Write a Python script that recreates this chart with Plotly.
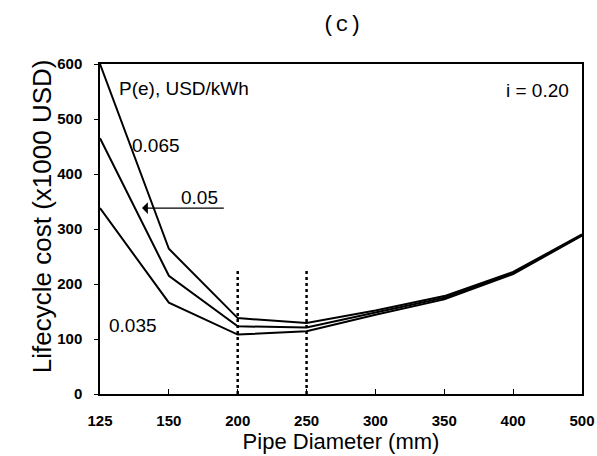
import plotly.graph_objects as go

diameters = ["125", "150", "200", "250", "300", "350", "400", "500"]
cost_0065 = [600, 264, 138, 129, 152, 178, 222, 290]
cost_005 = [465, 215, 123, 121, 148, 175, 220, 289]
cost_0035 = [338, 166, 108, 114, 144, 172, 218, 288]
marker_diameters = ["200", "250"]
marker_top = 225

fig = go.Figure()
for ys in (cost_0065, cost_005, cost_0035):
    fig.add_trace(go.Scatter(x=diameters, y=ys, mode="lines",
                             line=dict(color="black", width=2), showlegend=False))
for d in marker_diameters:
    fig.add_trace(go.Scatter(x=[d, d], y=[0, marker_top], mode="lines",
                             line=dict(color="black", width=2.5, dash="dot"), showlegend=False))

fnt = dict(family="Liberation Sans, Arial", size=19, color="black")
fig.add_annotation(x=0.245, y=556, text="P(e), USD/kWh", showarrow=False, xanchor="left", font=fnt)
fig.add_annotation(x=0.82, y=451, text="0.065", showarrow=False, font=fnt)
fig.add_annotation(x=1.45, y=358, text="0.05", showarrow=False, font=fnt)
fig.add_annotation(x=0.48, y=124, text="0.035", showarrow=False, font=fnt)
fig.add_annotation(x=6.84, y=551, text="i = 0.20", showarrow=False, xanchor="right", font=fnt)
fig.add_annotation(x=0.61, y=338, ax=1.82, ay=338, axref="x", ayref="y", text="",
                   showarrow=True, arrowhead=1, arrowsize=1.5, arrowwidth=1.3, arrowcolor="black")
# y-axis title (placed slightly above plot centre, as in the original)
fig.add_annotation(xref="paper", yref="paper", x=0, y=0.539, xshift=-75, textangle=-90,
                   text="Lifecycle cost (x1000 USD)", showarrow=False,
                   font=dict(family="Liberation Sans, Arial", size=26, color="black"))

tickfont = dict(family="Liberation Sans, Arial", size=15, color="black", weight="bold")
fig.update_layout(
    width=597, height=456,
    margin=dict(l=100, r=15, t=64, b=62),
    paper_bgcolor="white", plot_bgcolor="white",
    title=dict(text="(c)", x=0.573, xanchor="center", y=0.9496, yanchor="middle",
               font=dict(family="Liberation Mono, DejaVu Sans Mono", size=22, color="black")),
    xaxis=dict(type="category", range=[0, 7], showline=True, linecolor="black", linewidth=2,
               mirror=True, ticks="inside", ticklen=5, tickcolor="black", showgrid=False,
               automargin=False, tickfont=tickfont, ticklabelstandoff=12,
               title=dict(text="Pipe Diameter (mm)", standoff=3,
                          font=dict(family="Liberation Sans, Arial", size=22, color="black"))),
    yaxis=dict(range=[0, 600], dtick=100, showline=True, linecolor="black", linewidth=1.5,
               mirror=True, ticks="outside", ticklen=4, tickcolor="black", showgrid=False,
               zeroline=False, automargin=False, tickfont=tickfont, ticklabelstandoff=9),
)
fig.write_html("out.html", config={"displayModeBar": False},
               post_script="document.body.style.margin='0';")
